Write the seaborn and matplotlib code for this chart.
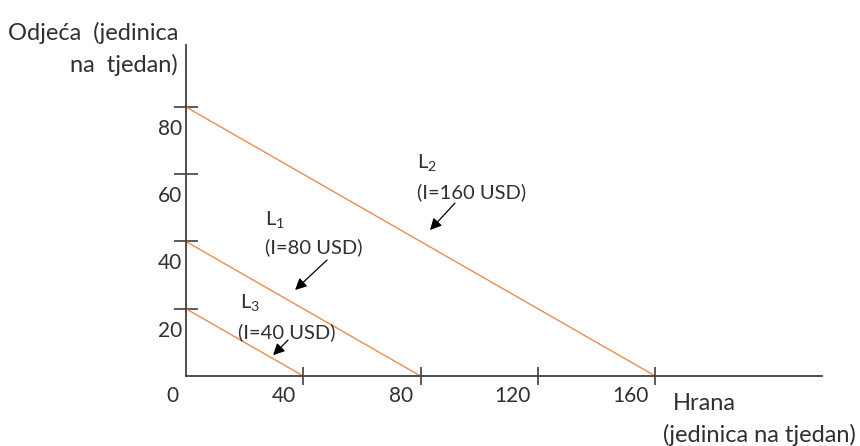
import matplotlib
matplotlib.use('Agg')
import matplotlib.pyplot as plt
import matplotlib.transforms as mtransforms
import pandas as pd
import seaborn as sns

# budžetske linije: hrana (x) i odjeća (y)
line_names = ['L1', 'L2', 'L3']
incomes = [80, 160, 40]
food_max = [80, 160, 40]       # presjek s osi x
clothing_max = [40, 80, 20]    # presjek s osi y
x_ticks = [0, 40, 80, 120, 160]
y_ticks = [20, 40, 60, 80]

rows = []
for name, fx, cy in zip(line_names, food_max, clothing_max):
    rows.append({'line': name, 'hrana': 0, 'odjeca': cy})
    rows.append({'line': name, 'hrana': fx, 'odjeca': 0})
df = pd.DataFrame(rows)

sns.set_style('white')
plt.rcParams['font.family'] = ['Lato', 'DejaVu Sans']
plt.rcParams['mathtext.fontset'] = 'custom'
plt.rcParams['mathtext.rm'] = 'Lato'
plt.rcParams['mathtext.it'] = 'Lato'
text_col = '#303030'
axis_col = '#404040'
fs_tick = 15
fs_note = 14.5
fs_title = 17

fig = plt.figure(figsize=(8.6, 4.46), dpi=100)
ax = fig.add_axes([0, 0, 1, 1])

sns.lineplot(data=df, x='hrana', y='odjeca', units='line', estimator=None,
             color='#F08A4B', linewidth=1.0, ax=ax, legend=False)

ax.set_xlim(-63.4, 229.8)
ax.set_ylim(-20.8, 111.8)

for s in ['top', 'right']:
    ax.spines[s].set_visible(False)
ax.spines['left'].set_position(('data', 0))
ax.spines['bottom'].set_position(('data', 0))
ax.spines['left'].set_bounds(0, 98.4)
ax.spines['bottom'].set_bounds(0, 216.9)
for s in ['left', 'bottom']:
    ax.spines[s].set_color(axis_col)
    ax.spines[s].set_linewidth(1.3)

ax.set_xticks(x_ticks, [str(v) for v in x_ticks])
ax.set_yticks(y_ticks, [str(v) for v in y_ticks])
ax.tick_params(axis='x', bottom=True, direction='inout', length=13, width=1.2,
               color=axis_col, labelsize=fs_tick, labelcolor=text_col, pad=1.0)
ax.tick_params(axis='y', left=True, direction='inout', length=17, width=1.2,
               color=axis_col, labelsize=fs_tick, labelcolor=text_col, pad=-5.8)
ax.xaxis.get_major_ticks()[0].tick1line.set_visible(False)

# oznake pomaknute kao u originalu (lijevo od crtice / ispod crtice)
dx = mtransforms.ScaledTranslation(-7 / 100, 0, fig.dpi_scale_trans)
for lab in ax.get_xticklabels():
    lab.set_ha('right')
    lab.set_transform(lab.get_transform() + dx)
dy = mtransforms.ScaledTranslation(0, -20 / 100, fig.dpi_scale_trans)
for lab in ax.get_yticklabels():
    lab.set_transform(lab.get_transform() + dy)

ax.set_ylabel('Odjeća  (jedinica\nna  tjedan)', rotation=0, ha='right', va='center',
              multialignment='right', fontsize=fs_title, color=text_col, linespacing=1.55)
ax.yaxis.set_label_coords(0.207, 0.891)
ax.set_xlabel('Hrana', ha='left', va='center', fontsize=fs_title, color=text_col)
ax.xaxis.set_label_coords(0.7826, 0.0964)
ax.text(0.771, 0.0247, '(jedinica na tjedan)', transform=ax.transAxes,
        ha='left', va='center', fontsize=fs_title, color=text_col)

# natpisi i strelice
label_pos = {'L1': (26.9, 46.4), 'L2': (78.8, 63.6), 'L3': (18.4, 22.0)}
income_pos = {'L1': (26.9, 38.4), 'L2': (78.8, 54.7), 'L3': (17.7, 13.1)}
arrow_tail = {'L1': (48.1, 34.5), 'L2': (91.7, 51.4), 'L3': (34.8, 10.7)}
arrow_head = {'L1': (37.2, 25.6), 'L2': (83.2, 43.4), 'L3': (29.7, 6.2)}
for name, inc in zip(line_names, incomes):
    ax.text(*label_pos[name], 'L$_{\\mathrm{%s}}$' % name[1], ha='left', va='center',
            fontsize=fs_note, color=text_col)
    ax.text(*income_pos[name], '(I=%d USD)' % inc, ha='left', va='center',
            fontsize=fs_note, color=text_col)
    ax.annotate('', xy=arrow_head[name], xytext=arrow_tail[name],
                arrowprops=dict(arrowstyle='-|>', color='black', lw=0.9,
                                mutation_scale=17, shrinkA=0, shrinkB=0))

fig.savefig('out.png', dpi=100)
